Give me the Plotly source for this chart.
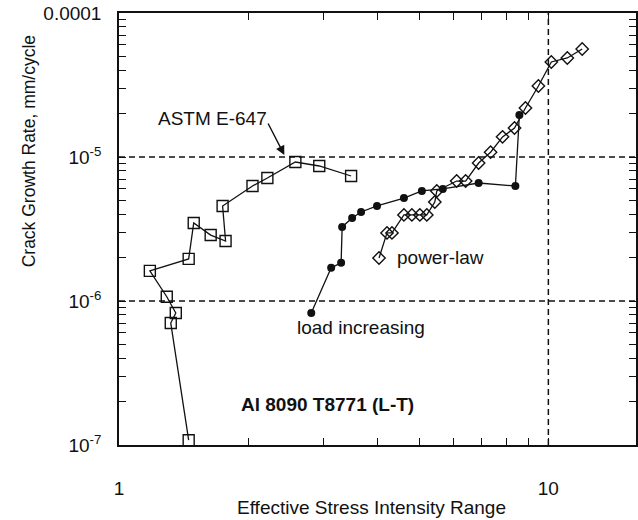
import plotly.graph_objects as go
import math

# ---------------- data ----------------
astm_x = [1.453, 1.320, 1.356, 1.292, 1.180, 1.453, 1.493, 1.635, 1.771, 1.743,
          2.046, 2.216, 2.575, 2.927, 3.472]
astm_y = [1.08e-7, 7.03e-7, 8.25e-7, 1.07e-6, 1.62e-6, 1.96e-6, 3.48e-6, 2.87e-6,
          2.61e-6, 4.57e-6, 6.29e-6, 7.15e-6, 9.23e-6, 8.66e-6, 7.38e-6]

load_x = [2.804, 3.120, 3.291, 3.309, 3.491, 3.663, 3.990, 4.609, 5.074, 5.677,
          6.88, 8.38, 8.56]
load_y = [8.25e-7, 1.70e-6, 1.84e-6, 3.27e-6, 3.77e-6, 4.15e-6, 4.57e-6, 5.19e-6,
          5.81e-6, 6.0e-6, 6.6e-6, 6.29e-6, 1.96e-5]

power_x = [4.033, 4.209, 4.323, 4.609, 4.810, 5.020, 5.211, 5.439, 5.497, 6.115,
           6.417, 6.88, 7.336, 7.822, 8.340, 8.844, 9.48, 10.16, 11.07, 11.99]
power_y = [1.99e-6, 2.97e-6, 2.97e-6, 3.96e-6, 3.96e-6, 3.96e-6, 3.96e-6, 4.87e-6,
           5.81e-6, 6.81e-6, 6.81e-6, 9.08e-6, 1.08e-5, 1.38e-5, 1.59e-5, 2.19e-5,
           3.11e-5, 4.57e-5, 4.87e-5, 5.62e-5]

x_range = [1, 16]
y_range = [1e-7, 1e-4]
grid_y = [1e-5, 1e-6]
grid_x = [10]

x_tickvals = [1, 2, 3, 4, 5, 6, 7, 8, 9, 10]
x_ticktext = ["1", "", "", "", "", "", "", "", "", "10"]
y_tickvals = [m * 10.0 ** e for e in (-7, -6, -5) for m in range(1, 10)] + [1e-4]
y_ticktext = []
for e in (-7, -6, -5):
    for m in range(1, 10):
        y_ticktext.append("10<sup>%d</sup>" % e if m == 1 else "")
y_ticktext.append("0.0001")

FONT = "Liberation Sans, Arial, sans-serif"
INK = "#111111"

fig = go.Figure()

# dashed reference lines
for gy in grid_y:
    fig.add_trace(go.Scatter(x=x_range, y=[gy, gy], mode="lines",
                             line=dict(color=INK, width=1.5, dash="6px,4px"),
                             hoverinfo="skip", showlegend=False))
for gx in grid_x:
    fig.add_trace(go.Scatter(x=[gx, gx], y=y_range, mode="lines",
                             line=dict(color=INK, width=1.5, dash="6px,4px"),
                             hoverinfo="skip", showlegend=False))

fig.add_trace(go.Scatter(x=astm_x, y=astm_y, mode="lines+markers",
                         line=dict(color=INK, width=1.3),
                         marker=dict(symbol="square-open", size=11, color=INK,
                                     line=dict(width=1.4, color=INK)),
                         showlegend=False))
fig.add_trace(go.Scatter(x=load_x, y=load_y, mode="lines+markers",
                         line=dict(color=INK, width=1.3),
                         marker=dict(symbol="circle", size=8, color=INK),
                         showlegend=False))
fig.add_trace(go.Scatter(x=power_x, y=power_y, mode="lines+markers",
                         line=dict(color=INK, width=1.3),
                         marker=dict(symbol="diamond-open", size=9.5, color=INK,
                                     line=dict(width=1.4, color=INK)),
                         showlegend=False))

axis_common = dict(type="log", showline=True, linecolor=INK, linewidth=1.5,
                   mirror="ticks", ticks="inside", ticklen=7, tickwidth=1.3,
                   tickcolor=INK, showgrid=False, zeroline=False,
                   tickfont=dict(family=FONT, size=19, color=INK))

fig.update_xaxes(range=[math.log10(x_range[0]), math.log10(x_range[1])],
                 tickmode="array", tickvals=x_tickvals, ticktext=x_ticktext,
                 ticklabelstandoff=25, **axis_common)
fig.update_yaxes(range=[math.log10(y_range[0]), math.log10(y_range[1])],
                 tickmode="array", tickvals=y_tickvals, ticktext=y_ticktext,
                 ticklabelstandoff=12, **axis_common)

def ann(text, x, y, size=19, bold=False, **kw):
    fig.add_annotation(text=("<b>%s</b>" % text) if bold else text,
                       xref="paper", yref="paper", x=x, y=y,
                       showarrow=False, xanchor="center", yanchor="middle",
                       font=dict(family=FONT, size=size, color=INK), **kw)

ann("ASTM E-647", 0.1811, 0.7569)
ann("load increasing", 0.4682, 0.2731)
ann("power-law", 0.6224, 0.4329)
ann("Al 8090 T8771 (L-T)", 0.4027, 0.0926, bold=True)
ann("Effective Stress Intensity Range", 0.4875, -0.1458, size=19)
ann("Crack Growth Rate, mm/cycle", -0.1734, 0.6806, size=17.5, textangle=-90)

# arrow pointing to the ASTM curve
fig.add_annotation(text="", xref="paper", yref="paper", x=0.3198, y=0.6713,
                   ax=-17, ay=-33, showarrow=True, arrowhead=2, arrowsize=1.3,
                   arrowwidth=1.4, arrowcolor=INK)

fig.update_layout(width=638, height=520,
                  margin=dict(l=119, r=0, t=13, b=75),
                  paper_bgcolor="white", plot_bgcolor="white",
                  showlegend=False)

fig.write_html("out.html")
